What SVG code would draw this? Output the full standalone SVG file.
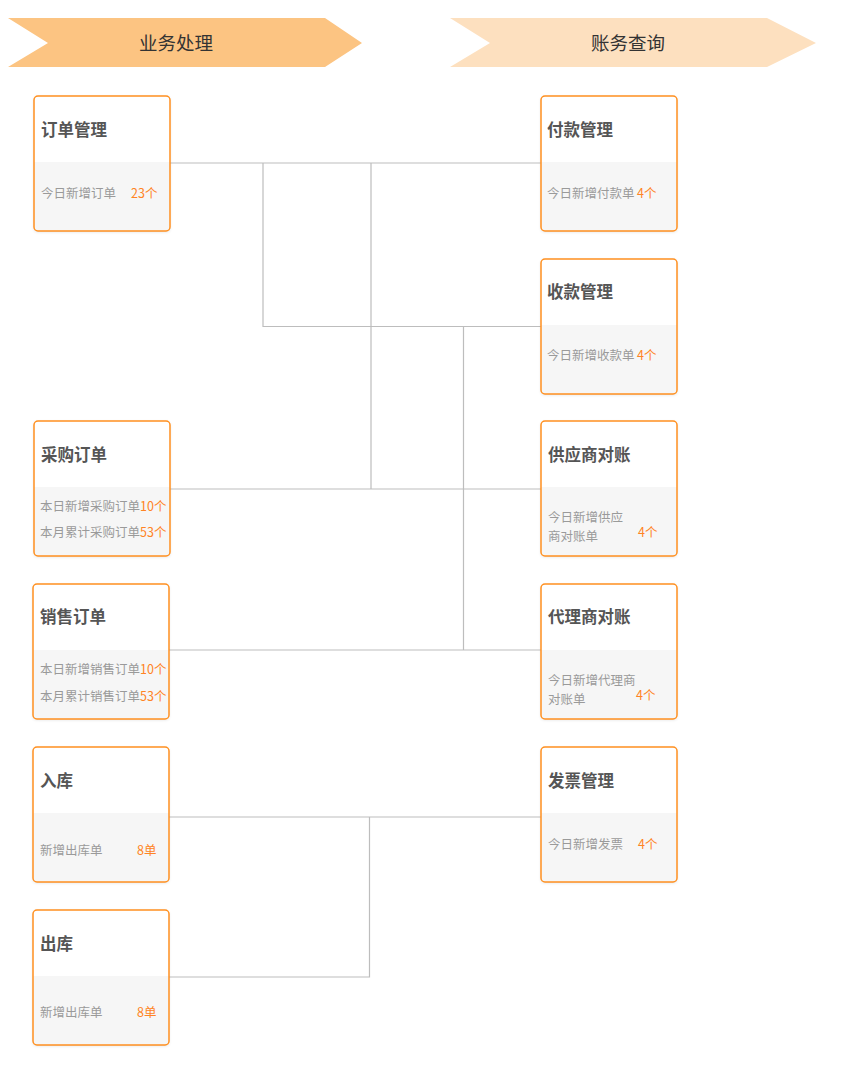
<svg xmlns="http://www.w3.org/2000/svg" xmlns:xlink="http://www.w3.org/1999/xlink" width="857" height="1070" viewBox="0 0 857 1070">
<style>
text{font-family:"Noto Sans CJK SC","Noto Sans",sans-serif}
.banner-t{font-size:18.5px;fill:#333;text-anchor:middle}
.title{font-size:16.5px;font-weight:bold;fill:#555}
.sub{font-size:12.5px;fill:#9a9a9a}
.num{font-size:12.5px;fill:#ff8424}
.conn{stroke:#bdbdbd;stroke-width:1.2;fill:none}
.frame{fill:none;stroke:#ff9020;stroke-width:1.5}
</style>
<defs>
<filter id="sh" x="-10%" y="-10%" width="120%" height="120%">
<feDropShadow dx="0" dy="1" stdDeviation="1.5" flood-color="#000" flood-opacity="0.12"/>
</filter>
<g id="card">
<rect x="0" y="0" width="136" height="135" rx="4" fill="#fff" filter="url(#sh)"/>
<path d="M0,66 H136 V131 A4,4 0 0 1 132,135 H4 A4,4 0 0 1 0,131 Z" fill="#f6f6f6"/>
<rect class="frame" x="0" y="0" width="136" height="135" rx="4"/>
</g>
</defs>
<rect width="857" height="1070" fill="#fff"/>

<g id="banner-left">
<polygon points="8,18 325,18 362,43 325,67 8,67 48,43" fill="#fcc482"/>
<text class="banner-t" x="176" y="49.5">业务处理</text>
</g>
<g id="banner-right">
<polygon points="450,18 767,18 816,43 767,67 450,67 490,43" fill="#fde0bf"/>
<text class="banner-t" x="628" y="49.5">账务查询</text>
</g>

<g id="connectors">
<path class="conn" d="M170,163 H541"/>
<path class="conn" d="M263,163 V326.5 H541"/>
<path class="conn" d="M371,163 V489"/>
<path class="conn" d="M170,489 H541"/>
<path class="conn" d="M463.5,326.5 V650"/>
<path class="conn" d="M169,650 H541"/>
<path class="conn" d="M169,817 H541"/>
<path class="conn" d="M369.5,817 V977 H169"/>
</g>

<g id="node-order" transform="translate(34,96)">
<use xlink:href="#card"/>
<text class="title" x="7" y="40">订单管理</text>
<text class="sub" x="7" y="102">今日新增订单</text>
<text class="num" x="97" y="102">23个</text>
</g>
<g id="node-purchase" transform="translate(34,421)">
<use xlink:href="#card"/>
<text class="title" x="7" y="40">采购订单</text>
<text class="sub" x="6" y="90">本日新增采购订单<tspan class="num">10个</tspan></text>
<text class="sub" x="6" y="116">本月累计采购订单<tspan class="num">53个</tspan></text>
</g>
<g id="node-sales" transform="translate(33,584)">
<use xlink:href="#card"/>
<text class="title" x="7" y="39">销售订单</text>
<text class="sub" x="7" y="90">本日新增销售订单<tspan class="num">10个</tspan></text>
<text class="sub" x="7" y="117">本月累计销售订单<tspan class="num">53个</tspan></text>
</g>
<g id="node-in" transform="translate(33,747)">
<use xlink:href="#card"/>
<text class="title" x="7" y="40">入库</text>
<text class="sub" x="7" y="108">新增出库单</text>
<text class="num" x="104" y="108">8单</text>
</g>
<g id="node-out" transform="translate(33,910)">
<use xlink:href="#card"/>
<text class="title" x="7" y="40">出库</text>
<text class="sub" x="7" y="107">新增出库单</text>
<text class="num" x="104" y="107">8单</text>
</g>

<g id="node-pay" transform="translate(541,96)">
<use xlink:href="#card"/>
<text class="title" x="6" y="40">付款管理</text>
<text class="sub" x="6" y="102">今日新增付款单</text>
<text class="num" x="96" y="102">4个</text>
</g>
<g id="node-receive" transform="translate(541,259)">
<use xlink:href="#card"/>
<text class="title" x="6" y="39">收款管理</text>
<text class="sub" x="6" y="101">今日新增收款单</text>
<text class="num" x="96" y="101">4个</text>
</g>
<g id="node-supplier" transform="translate(541,421)">
<use xlink:href="#card"/>
<text class="title" x="7" y="40">供应商对账</text>
<text class="sub" x="7" y="101">今日新增供应</text>
<text class="sub" x="7" y="120">商对账单</text>
<text class="num" x="97" y="116">4个</text>
</g>
<g id="node-agent" transform="translate(541,584)">
<use xlink:href="#card"/>
<text class="title" x="7" y="39">代理商对账</text>
<text class="sub" x="7" y="101">今日新增代理商</text>
<text class="sub" x="7" y="120">对账单</text>
<text class="num" x="95" y="116">4个</text>
</g>
<g id="node-invoice" transform="translate(541,747)">
<use xlink:href="#card"/>
<text class="title" x="7" y="40">发票管理</text>
<text class="sub" x="7" y="102">今日新增发票</text>
<text class="num" x="97" y="102">4个</text>
</g>
</svg>
